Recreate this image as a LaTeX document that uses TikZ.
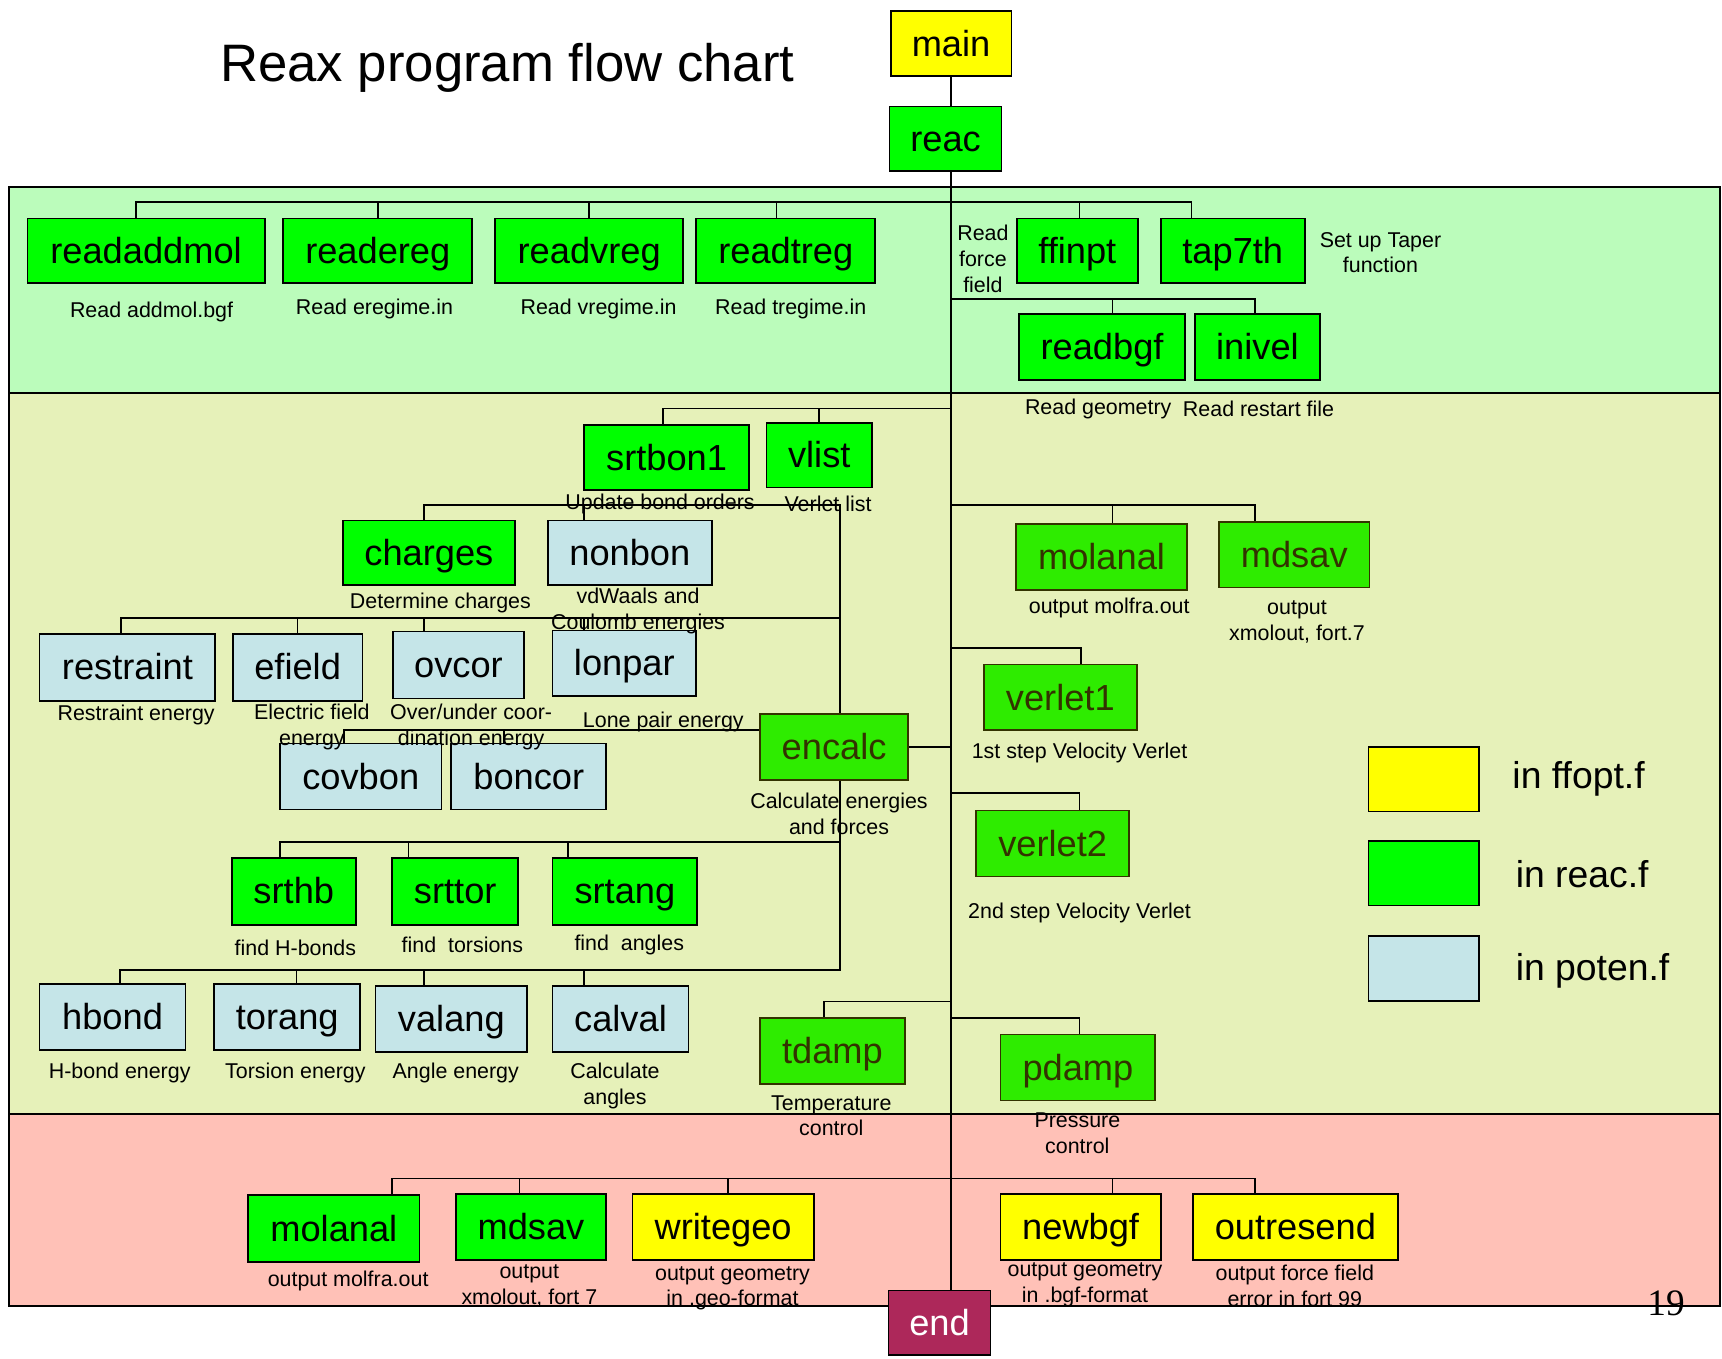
\documentclass[tikz,border=0pt]{standalone}
\usepackage{fontspec}
\setmainfont{Liberation Sans}
\newfontfamily\serifnum{Liberation Serif}
\definecolor{pgreen}{RGB}{0,255,0}
\definecolor{dgreen}{RGB}{46,236,0}
\definecolor{olivetxt}{RGB}{51,51,0}
\definecolor{lblue}{RGB}{197,229,232}
\definecolor{pyellow}{RGB}{255,255,0}
\definecolor{bandG}{RGB}{187,252,187}
\definecolor{bandY}{RGB}{230,241,185}
\definecolor{bandP}{RGB}{255,193,183}
\definecolor{endc}{RGB}{173,40,90}
\begin{document}
\begin{tikzpicture}[x=1pt,y=-1pt,
  conn/.style={draw=black,line width=1.6pt},
  band/.style={draw=black,line width=2pt},
  boxbase/.style={draw=black,line width=1.6pt,inner sep=0pt,
    font=\fontsize{33}{33}\selectfont,text height=26pt,text depth=3pt},
  gbox/.style={boxbase,fill=pgreen},
  dbox/.style={boxbase,fill=dgreen,draw=olivetxt,text=olivetxt},
  bbox/.style={boxbase,fill=lblue},
  ybox/.style={boxbase,fill=pyellow},
  ebox/.style={boxbase,fill=endc,text=white},
  lab/.style={inner sep=0pt,align=center,font=\fontsize{19.5}{23.5}\selectfont},
  leg/.style={inner sep=0pt,anchor=west,font=\fontsize{34}{34}\selectfont},
]
\useasboundingbox (0,0) rectangle (1568,1237);
% bands
\path[band,fill=bandG] (8,170) rectangle (1566,358);
\path[band,fill=bandY] (8,358) rectangle (1566,1014);
\path[band,fill=bandP] (8,1014) rectangle (1566,1189);

% title
\node[inner sep=0pt,font=\fontsize{48}{48}\selectfont] (title) at (462,62) {Reax program flow chart};

% boxes
\node[ybox,minimum width=110,minimum height=59] (main) at (866,39.5) {main};
\node[gbox,minimum width=102,minimum height=59] (reac) at (861,126.5) {reac};

\node[gbox,minimum width=216,minimum height=59] (readaddmol) at (133,228.5) {readaddmol};
\node[gbox,minimum width=172,minimum height=59] (readereg) at (344,228.5) {readereg};
\node[gbox,minimum width=171,minimum height=59] (readvreg) at (536.5,228.5) {readvreg};
\node[gbox,minimum width=163,minimum height=59] (readtreg) at (715.5,228.5) {readtreg};
\node[gbox,minimum width=110,minimum height=59] (ffinpt) at (981,228.5) {ffinpt};
\node[gbox,minimum width=131,minimum height=59] (tap7th) at (1122.5,228.5) {tap7th};
\node[gbox,minimum width=151,minimum height=60] (readbgf) at (1003.5,316) {readbgf};
\node[gbox,minimum width=114,minimum height=60] (inivel) at (1145,316) {inivel};

\node[gbox,minimum width=150,minimum height=59] (srtbon1) at (607,416.5) {srtbon1};
\node[gbox,minimum width=96,minimum height=59] (vlist) at (746,414.5) {vlist};
\node[gbox,minimum width=157,minimum height=59] (charges) at (390.5,503.5) {charges};
\node[bbox,minimum width=149,minimum height=59] (nonbon) at (573.5,503.5) {nonbon};
\node[bbox,minimum width=160,minimum height=61] (restraint) at (116,607.5) {restraint};
\node[bbox,minimum width=118,minimum height=61] (efield) at (271,607.5) {efield};
\node[bbox,minimum width=119,minimum height=61] (ovcor) at (417.5,605.5) {ovcor};
\node[bbox,minimum width=131,minimum height=60] (lonpar) at (568.5,604) {lonpar};
\node[dbox,minimum width=135,minimum height=60] (encalc) at (759.5,680) {encalc};
\node[bbox,minimum width=147,minimum height=60] (covbon) at (328.5,707) {covbon};
\node[bbox,minimum width=141,minimum height=60] (boncor) at (481.5,707) {boncor};
\node[gbox,minimum width=113,minimum height=61] (srthb) at (267.5,811.5) {srthb};
\node[gbox,minimum width=115,minimum height=61] (srttor) at (414.5,811.5) {srttor};
\node[gbox,minimum width=132,minimum height=61] (srtang) at (569,811.5) {srtang};
\node[bbox,minimum width=133,minimum height=60] (hbond) at (102.5,926) {hbond};
\node[bbox,minimum width=133,minimum height=60] (torang) at (261.5,926) {torang};
\node[bbox,minimum width=138,minimum height=60] (valang) at (411,928) {valang};
\node[bbox,minimum width=124,minimum height=60] (calval) at (565,928) {calval};
\node[dbox,minimum width=132,minimum height=60] (tdamp) at (758,957) {tdamp};

\node[dbox,minimum width=156,minimum height=60] (molanalA) at (1003,507) {molanal};
\node[dbox,minimum width=137,minimum height=60] (mdsavA) at (1178.5,505) {mdsav};
\node[dbox,minimum width=139,minimum height=60] (verlet1) at (965.5,635) {verlet1};
\node[dbox,minimum width=139,minimum height=60] (verlet2) at (958.5,768) {verlet2};
\node[dbox,minimum width=141,minimum height=60] (pdamp) at (981.5,972) {pdamp};

\node[gbox,minimum width=156,minimum height=61] (molanalB) at (304,1118.5) {molanal};
\node[gbox,minimum width=137,minimum height=60] (mdsavB) at (483.5,1117) {mdsav};
\node[ybox,minimum width=165,minimum height=60] (writegeo) at (658.5,1117) {writegeo};
\node[ybox,minimum width=146,minimum height=60] (newbgf) at (984,1117) {newbgf};
\node[ybox,minimum width=187,minimum height=60] (outresend) at (1179.5,1117) {outresend};
\node[ebox,minimum width=93,minimum height=59] (end) at (855.5,1204.5) {end};

% legend
\node[ybox,minimum width=101,minimum height=59] (legY) at (1296.5,709.5) {};
\node[gbox,minimum width=101,minimum height=59] (legG) at (1296.5,795) {};
\node[bbox,minimum width=101,minimum height=59] (legB) at (1296.5,882) {};
\node[leg] (legYt) at (1377,709) {in ffopt.f};
\node[leg] (legGt) at (1380,796) {in reac.f};
\node[leg] (legBt) at (1380,884) {in poten.f};

% labels
\node[lab] (l1) at (138,284) {Read addmol.bgf};
\node[lab] (l2) at (341,281) {Read eregime.in};
\node[lab] (l3) at (545,281) {Read vregime.in};
\node[lab] (l4) at (720,281) {Read tregime.in};
\node[lab] (l5) at (895,235.5) {Read\\force\\field};
\node[lab] (l6) at (1257,230) {Set up Taper\\function};
\node[lab] (l7) at (1000,372) {Read geometry};
\node[lab] (l8) at (1146,372) {Read restart file};
\node[lab] (l9) at (601,459) {Update bond orders};
\node[lab] (l10) at (754,459) {Verlet list};
\node[lab] (l11) at (401,549) {Determine charges};
\node[lab] (l12) at (581,556) {vdWaals and\\Coulomb energies};
\node[lab] (l13) at (124,651) {Restraint energy};
\node[lab] (l14) at (284,662) {Electric field\\energy};
\node[lab] (l15) at (429,662) {Over/under coor-\\dination energy};
\node[lab] (l16) at (604,657) {Lone pair energy};
\node[lab] (l17) at (764,741) {Calculate energies\\and forces};
\node[lab] (l18) at (269,863) {find H-bonds};
\node[lab] (l19) at (421,860) {find\ \ torsions};
\node[lab] (l20) at (573,860) {find\ \ angles};
\node[lab] (l21) at (109,977) {H-bond energy};
\node[lab] (l22) at (269,977) {Torsion energy};
\node[lab] (l23) at (415,977) {Angle energy};
\node[lab] (l24) at (560,989) {Calculate\\angles};
\node[lab] (l25) at (757,1016) {Temperature\\control};
\node[lab] (l26) at (1010,554) {output molfra.out};
\node[lab] (l27) at (1181,566) {output\\xmolout, fort.7};
\node[lab] (l28) at (983,686) {1st step Velocity Verlet};
\node[lab] (l29) at (983,831) {2nd step Velocity Verlet};
\node[lab] (l30) at (981,1032) {Pressure\\control};
\node[lab] (l31) at (317,1166) {output molfra.out};
\node[lab] (l32) at (482,1171) {output\\xmolout, fort 7};
\node[lab] (l33) at (667,1173) {output geometry\\in .geo-format};
\node[lab] (l34) at (988,1170) {output geometry\\in .bgf-format};
\node[lab] (l35) at (1179,1171) {output force field\\error in fort 99};
\node[inner sep=0pt,font=\serifnum\fontsize{34}{34}\selectfont] (pnum) at (1517,1187) {19};

% bus heights
\coordinate (yG) at (0,184);
\coordinate (yR) at (0,272);
\coordinate (yS) at (0,372);
\coordinate (yC) at (0,460);
\coordinate (yE) at (0,563);
\coordinate (yCov) at (0,665);
\coordinate (yT) at (0,767);
\coordinate (yH) at (0,883);
\coordinate (yTd) at (0,912);
\coordinate (yPd) at (0,927);
\coordinate (yV1) at (0,590);
\coordinate (yV2) at (0,722);
\coordinate (yP) at (0,1073);

% drop points
\coordinate (dAdd) at ([xshift=-9]readaddmol.north);
\coordinate (dEre) at (readereg.north);
\coordinate (dVre) at (readvreg.north);
\coordinate (dTre) at ([xshift=-8.5]readtreg.north);
\coordinate (dFf) at ([xshift=2]ffinpt.north);
\coordinate (dTap) at ([xshift=-37.5]tap7th.north);
\coordinate (dBgf) at ([xshift=9.5]readbgf.north);
\coordinate (dIni) at ([xshift=-2]inivel.north);
\coordinate (dSrt) at ([xshift=-3]srtbon1.north);
\coordinate (dVl) at (vlist.north);
\coordinate (dCh) at ([xshift=-4.5]charges.north);
\coordinate (dNb) at ([xshift=-41.5]nonbon.north);
\coordinate (dRs) at ([xshift=-6]restraint.north);
\coordinate (dEf) at (efield.north);
\coordinate (dOv) at ([xshift=-31.5]ovcor.north);
\coordinate (dLp) at ([xshift=-36.5]lonpar.north);
\coordinate (dCv) at ([xshift=-15.5]covbon.north);
\coordinate (dBc) at ([xshift=-22.5]boncor.north);
\coordinate (dEn) at ([xshift=5.5]encalc.north);
\coordinate (dEs) at ([xshift=5.5]encalc.south);
\coordinate (dHbA) at ([xshift=-12.5]srthb.north);
\coordinate (dToA) at ([xshift=-42.5]srttor.north);
\coordinate (dAnA) at ([xshift=-52]srtang.north);
\coordinate (dHb) at ([xshift=6.5]hbond.north);
\coordinate (dTg) at ([xshift=8.5]torang.north);
\coordinate (dVa) at ([xshift=-25]valang.north);
\coordinate (dCa) at ([xshift=-33]calval.north);
\coordinate (dTd) at ([xshift=-8]tdamp.north);
\coordinate (dPd) at ([xshift=1.5]pdamp.north);
\coordinate (dMoA) at ([xshift=10]molanalA.north);
\coordinate (dMdA) at ([xshift=-35.5]mdsavA.north);
\coordinate (dV1) at ([xshift=18.5]verlet1.north);
\coordinate (dV2) at ([xshift=24.5]verlet2.north);
\coordinate (dMoB) at ([xshift=53]molanalB.north);
\coordinate (dMdB) at ([xshift=-10.5]mdsavB.north);
\coordinate (dWg) at ([xshift=4.5]writegeo.north);
\coordinate (dNg) at ([xshift=29]newbgf.north);
\coordinate (dOr) at ([xshift=-36.5]outresend.north);

% trunk
\draw[conn] (main.south) -- (main.south |- reac.north);
\draw[conn] (main.south |- reac.south) -- (main.south |- end.north);

% green band
\draw[conn] (dAdd) |- (dTap |- yG) -- (dTap);
\foreach \d in {dEre,dVre,dTre,dFf} \draw[conn] (\d) -- (\d |- yG);
\draw[conn] (main.south |- yR) -| (dIni);
\draw[conn] (dBgf) -- (dBgf |- yR);

% left side
\draw[conn] (main.south |- yS) -| (dSrt);
\draw[conn] (dVl) -- (dVl |- yS);
\draw[conn] (dCh) |- (dEn |- yC) -- (dEn);
\draw[conn] (dNb) -- (dNb |- yC);
\draw[conn] (dRs) |- (dEn |- yE);
\foreach \d in {dEf,dOv,dLp} \draw[conn] (\d) -- (\d |- yE);
\draw[conn] (dCv) |- (encalc.west |- yCov);
\draw[conn] (dBc) -- (dBc |- yCov);
\draw[conn] (encalc.east) -- (main.south |- encalc.east);
\draw[conn] (dEs) -- (dEs |- yH) -| (dHb);
\foreach \d in {dTg,dVa,dCa} \draw[conn] (\d) -- (\d |- yH);
\draw[conn] (dHbA) |- (dEs |- yT);
\foreach \d in {dToA,dAnA} \draw[conn] (\d) -- (\d |- yT);
\draw[conn] (main.south |- yTd) -| (dTd);

% right side
\draw[conn] (main.south |- yC) -| (dMdA);
\draw[conn] (dMoA) -- (dMoA |- yC);
\draw[conn] (main.south |- yV1) -| (dV1);
\draw[conn] (main.south |- yV2) -| (dV2);
\draw[conn] (main.south |- yPd) -| (dPd);

% pink band
\draw[conn] (dMoB) |- (dOr |- yP) -- (dOr);
\foreach \d in {dMdB,dWg,dNg} \draw[conn] (\d) -- (\d |- yP);
\end{tikzpicture}
\end{document}
